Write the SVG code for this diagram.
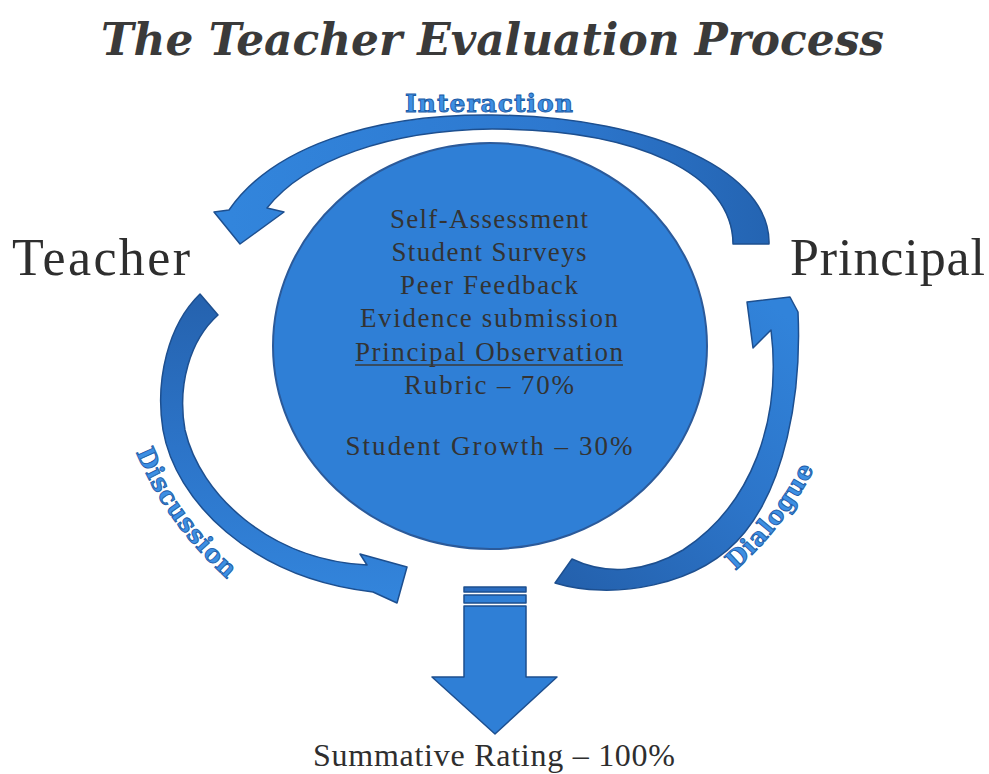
<svg xmlns="http://www.w3.org/2000/svg" width="989" height="774" viewBox="0 0 989 774">
  <defs>
    <style>
      .title { font-family: "DejaVu Serif", "Liberation Serif", serif; font-weight: bold; font-style: italic; font-size: 44px; fill: #3a3a3a; }
      .side { font-family: "Liberation Serif", "Times New Roman", serif; font-size: 52px; fill: #2e2e2e; }
      .inner { font-family: "Liberation Serif", "Times New Roman", serif; font-size: 27px; fill: #333333; }
      .bottom { font-family: "Liberation Serif", "Times New Roman", serif; font-size: 32px; fill: #2e2e2e; }
      .lab { font-family: "DejaVu Serif", "Liberation Serif", serif; font-weight: bold; font-size: 25px; fill: #3d8fe3; stroke: #1b5aa6; stroke-width: 0.9; }
      .arrow { stroke: #1d4f8f; stroke-width: 1.5; stroke-linejoin: round; }
    </style>
    <linearGradient id="gTop" gradientUnits="userSpaceOnUse" x1="230" y1="0" x2="770" y2="0">
      <stop offset="0" stop-color="#3285dc"/>
      <stop offset="0.6" stop-color="#2d78cf"/>
      <stop offset="1" stop-color="#2464b2"/>
    </linearGradient>
    <linearGradient id="gLeft" gradientUnits="userSpaceOnUse" x1="0" y1="295" x2="0" y2="600">
      <stop offset="0" stop-color="#2562ae"/>
      <stop offset="0.5" stop-color="#2c74c8"/>
      <stop offset="1" stop-color="#3385dc"/>
    </linearGradient>
    <linearGradient id="gRight" gradientUnits="userSpaceOnUse" x1="560" y1="580" x2="790" y2="320">
      <stop offset="0" stop-color="#2461ad"/>
      <stop offset="0.5" stop-color="#2c74c8"/>
      <stop offset="1" stop-color="#3183da"/>
    </linearGradient>
    <path id="pDisc" d="M 136 452 Q 166 526 234 585"/>
    <path id="pDial" d="M 735 571 Q 785 527 815 467"/>
  </defs>

  <rect x="0" y="0" width="989" height="774" fill="#ffffff"/>

  <g id="title">
    <text class="title" x="101" y="55" textLength="783" lengthAdjust="spacingAndGlyphs">The Teacher Evaluation Process</text>
  </g>

  <g id="center-circle">
    <ellipse cx="490" cy="346" rx="217" ry="203" fill="#2f7fd6" stroke="#2b5a9a" stroke-width="2"/>
    <g class="inner" text-anchor="middle">
      <text x="489" y="228" textLength="198">Self-Assessment</text>
      <text x="489" y="261" textLength="195">Student Surveys</text>
      <text x="489" y="294" textLength="178">Peer Feedback</text>
      <text x="489" y="327" textLength="258">Evidence submission</text>
      <text x="489" y="361" textLength="268">Principal Observation</text>
      <text x="489" y="394" textLength="170">Rubric – 70%</text>
      <text x="489" y="455" textLength="287">Student Growth – 30%</text>
    </g>
    <line x1="355" y1="365" x2="623" y2="365" stroke="#3a3a3a" stroke-width="1.3"/>
  </g>

  <g id="teacher">
    <text class="side" x="12" y="275" textLength="178">Teacher</text>
  </g>

  <g id="principal">
    <text class="side" x="790" y="275" textLength="195">Principal</text>
  </g>

  <g id="summative">
    <text class="bottom" x="313" y="766" textLength="362">Summative Rating – 100%</text>
  </g>

  <g id="connectors">
    <g id="interaction-arrow">
      <path class="arrow" fill="url(#gTop)" d="M 769 244 C 771 175, 660 117, 492 115 C 370 114, 272 148, 229 210 L 214 212 L 240 244 L 284 212 L 267 208 C 305 160, 390 130, 492 129 C 640 129, 733 175, 733 244 Z"/>
      <text class="lab" x="489" y="112" text-anchor="middle" textLength="168">Interaction</text>
    </g>
    <g id="discussion-arrow">
      <path class="arrow" fill="url(#gLeft)" d="M 200 294 C 168 325, 155 380, 163 430 C 175 500, 250 578, 373 592 L 397 603 L 407 567 L 360 554 L 367 565 C 270 560, 200 495, 185 430 C 177 385, 190 340, 218 315 Z"/>
      <text class="lab"><textPath href="#pDisc" textLength="158">Discussion</textPath></text>
    </g>
    <g id="dialogue-arrow">
      <path class="arrow" fill="url(#gRight)" d="M 555 583 C 610 600, 700 588, 745 532 C 783 485, 802 400, 798 312 L 790 297 L 747 302 L 753 348 L 771 330 C 782 420, 752 505, 683 550 C 645 573, 605 575, 572 559 Z"/>
      <text class="lab"><textPath href="#pDial" textLength="130">Dialogue</textPath></text>
    </g>
    <g id="down-arrow">
      <rect class="arrow" x="464" y="587" width="62" height="5" fill="#2a6cc0"/>
      <rect class="arrow" x="464" y="595" width="62" height="8" fill="#2f7fd6"/>
      <path class="arrow" fill="#2f7fd6" d="M 464 606 L 526 606 L 526 677 L 557 677 L 495 734 L 432 677 L 464 677 Z"/>
    </g>
  </g>
</svg>
